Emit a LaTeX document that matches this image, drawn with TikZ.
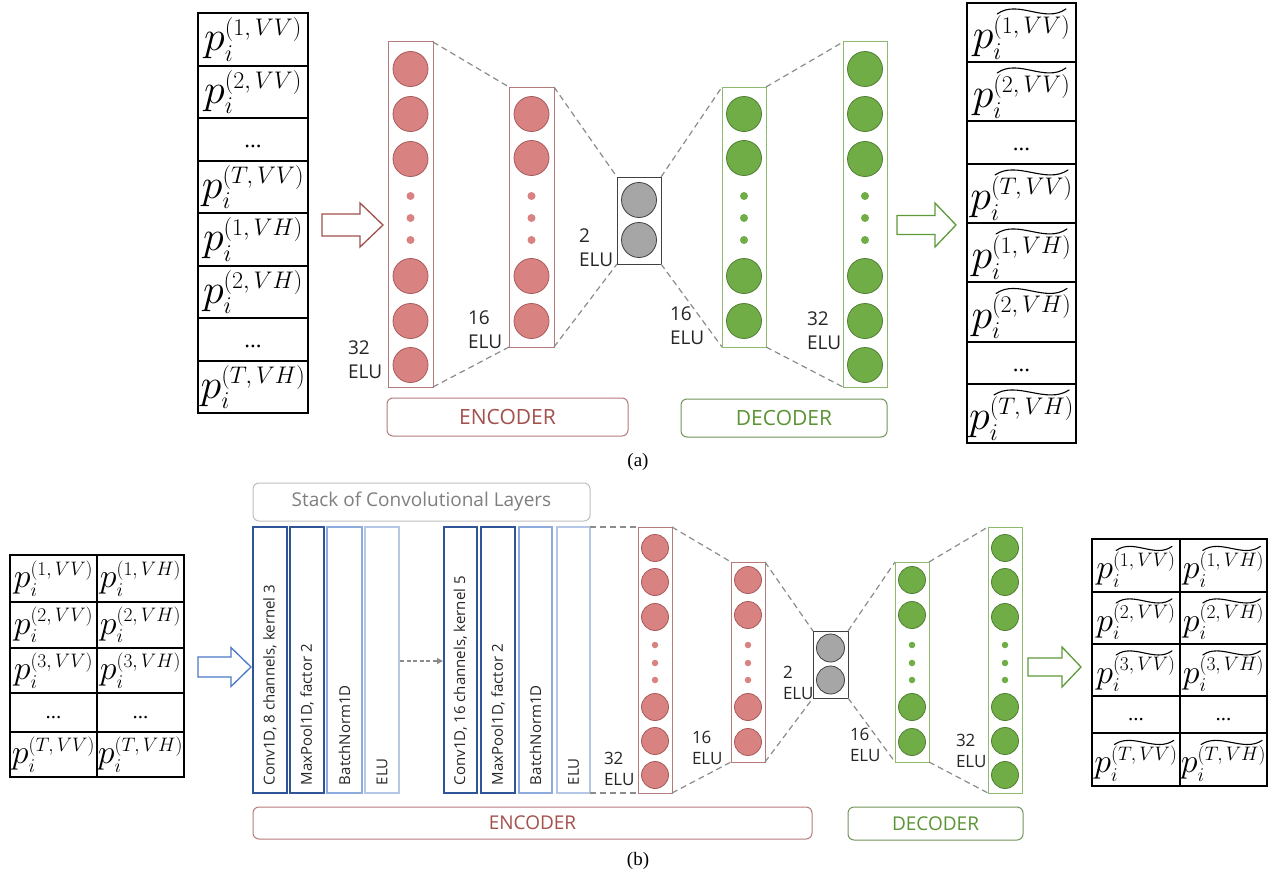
\RequirePackage{fix-cm}
\documentclass[tikz,border=0pt]{standalone}
\usepackage{graphicx}
\usepackage{fontspec}
\setmainfont{Liberation Serif}
\newfontfamily\labfont{Open Sans}
\usetikzlibrary{arrows.meta}
\DeclareMathSizes{35}{42}{24}{17}
\DeclareMathSizes{30}{34}{19.5}{14}

\definecolor{encfill}{HTML}{D98282}
\definecolor{encdraw}{HTML}{A85A5A}
\definecolor{encrect}{HTML}{B57B7B}
\definecolor{enctext}{HTML}{A4504C}
\definecolor{decfill}{HTML}{70AD47}
\definecolor{decdraw}{HTML}{4F7F30}
\definecolor{decrect}{HTML}{8DBA6E}
\definecolor{dectext}{HTML}{5A9434}
\definecolor{botfill}{HTML}{A6A6A6}
\definecolor{botdraw}{HTML}{404040}
\definecolor{dashcol}{HTML}{8C8C8C}
\definecolor{convdark}{HTML}{2F5597}
\definecolor{convmid}{HTML}{8FAADC}
\definecolor{convlight}{HTML}{B4C7E7}
\definecolor{stackgray}{HTML}{BFBFBF}
\definecolor{stacktext}{HTML}{7F7F7F}
\definecolor{arrowblue}{HTML}{4A78C8}
\definecolor{arrowred}{HTML}{A0504D}
\definecolor{arrowgreen}{HTML}{5E9A3A}

\newdimen\tlgap
\newbox\tlboxA
\newbox\tlboxB
% superscript with reserved room above it for a tilde
\newcommand{\tlph}[1]{\vbox{\offinterlineskip\kern\tlgap\hbox{$\scriptstyle #1$}}}

\newcommand{\tcell}[7]{% style, name, x1, y1, x2, y2, content
  \node[#1, minimum width={(#5-#3)*1pt}, minimum height={(#6-#4)*1pt}] (#2) at ({(#3+#5)/2},{(#4+#6)/2}) {#7};}

% cell with p_i^{~(sup)} ; tilde drawn as a curve over the superscript
\newcommand{\tildecell}[9]{% style, size, name, x1, y1, x2, y2, sup, scale
  \tlgap=9.5pt \tlgap=#9\tlgap
  \begingroup
    \fontsize{#2}{#2}\selectfont
    \setbox\tlboxA=\hbox{$p_i^{\tlph{#8}}$}%
    \setbox\tlboxB=\hbox{$\scriptstyle #8$}%
    \xdef\tlW{\the\wd\tlboxA}\xdef\tlS{\the\wd\tlboxB}%
    \xdef\tlH{\the\ht\tlboxA}\xdef\tlD{\the\dp\tlboxA}%
  \endgroup
  \tcell{#1}{#3}{#4}{#5}{#6}{#7}{$p_i^{\tlph{#8}}$}
  \pgfmathsetmacro\tlL{0.9*\tlS}
  \pgfmathsetmacro\tlXs{\tlW/2-0.95*\tlS-0.5}
  \pgfmathsetmacro\tlXa{\tlXs+0.3*\tlL}
  \pgfmathsetmacro\tlXb{\tlXs+0.7*\tlL}
  \pgfmathsetmacro\tlXe{\tlXs+\tlL}
  \pgfmathsetmacro\tlYb{(\tlH+\tlD)/2-\tlgap+1.5*#9}
  \pgfmathsetmacro\tlYa{\tlYb+15*#9}
  \pgfmathsetmacro\tlYc{\tlYb-10*#9}
  \pgfmathsetmacro\tlYe{\tlYb+5*#9}
  \draw[tildeln] ([xshift=\tlXs pt,yshift=\tlYb pt]#3.center)
     .. controls ([xshift=\tlXa pt,yshift=\tlYa pt]#3.center) and ([xshift=\tlXb pt,yshift=\tlYc pt]#3.center)
     .. ([xshift=\tlXe pt,yshift=\tlYe pt]#3.center);
}

\newcommand{\blockarrow}[7]{% color, xtail, xbase, xtip, yc, half shaft, half head
  \draw[#1, line width=1.3pt, fill=white, line join=miter]
    (#2,{#5-#6}) -- (#3,{#5-#6}) -- (#3,{#5-#7}) -- (#4,#5) -- (#3,{#5+#7}) -- (#3,{#5+#6}) -- (#2,{#5+#6}) -- cycle;}

\newcommand{\dotsA}{{\fontsize{23}{23}\selectfont\rule[-4pt]{0pt}{24pt}...}}
\newcommand{\dotsB}{{\fontsize{21}{21}\selectfont\rule[-3pt]{0pt}{17pt}...}}

\tikzset{
  every node/.style={inner sep=0pt, outer sep=0pt},
  cellT/.style={draw=black, line width=1.2pt, font=\fontsize{35}{40}\selectfont},
  cellB/.style={draw=black, line width=1.2pt, font=\fontsize{30}{36}\selectfont},
  tildeln/.style={draw=black, line width=1.1pt, line cap=round},
  encL/.style={draw=encrect, line width=1pt},
  decL/.style={draw=decrect, line width=1pt},
  botL/.style={draw=botdraw, line width=1pt},
  rcirc/.style={circle, fill=encfill, draw=encdraw, line width=0.8pt, minimum size=35pt},
  rdot/.style={circle, fill=encfill, minimum size=8pt},
  gcirc/.style={circle, fill=decfill, draw=decdraw, line width=0.8pt, minimum size=35pt},
  gdot/.style={circle, fill=decfill, minimum size=8pt},
  kcirc/.style={circle, fill=botfill, draw=botdraw, line width=0.8pt, minimum size=35pt},
  rcircs/.style={rcirc, minimum size=27pt},
  rdots/.style={rdot, minimum size=6.5pt},
  gcircs/.style={gcirc, minimum size=27pt},
  gdots/.style={gdot, minimum size=6.5pt},
  kcircs/.style={kcirc, minimum size=28pt},
  dashln/.style={draw=dashcol, line width=1.2pt, dash pattern=on 6pt off 4pt},
  labT/.style={font=\labfont\fontsize{19}{23.5}\selectfont, align=left, anchor=north west, text=black!85},
  labB/.style={font=\labfont\fontsize{17}{21}\selectfont, align=left, anchor=north west, text=black!85},
  encbox/.style={draw=encrect, line width=1pt, rounded corners=6pt, text=enctext},
  decbox/.style={draw=decrect!80!black, line width=1pt, rounded corners=6pt, text=dectext},
  convbox/.style={line width=1.2pt},
  convtxt/.style={rotate=90, anchor=west, font=\labfont\fontsize{15}{17}\selectfont, text=black!85},
  caption/.style={font=\fontsize{19}{22}\selectfont}
}

\begin{document}
\begin{tikzpicture}[x=1pt,y=-1pt]
\useasboundingbox (0,0) rectangle (1274,875);
\fill[white] (0,0) rectangle (1274,875);

%%%%%%%%%%%%%%%% (a) %%%%%%%%%%%%%%%%
% input table
\tcell{cellT}{ta1}{198}{13}{308}{66}{$p_i^{(1,\,VV)}$}
\tcell{cellT}{ta2}{198}{66}{308}{118}{$p_i^{(2,\,VV)}$}
\tcell{cellT}{ta3}{198}{118}{308}{161}{\dotsA}
\tcell{cellT}{ta4}{198}{161}{308}{213}{$p_i^{(T,\,VV)}$}
\tcell{cellT}{ta5}{198}{213}{308}{266}{$p_i^{(1,\,VH)}$}
\tcell{cellT}{ta6}{198}{266}{308}{318}{$p_i^{(2,\,VH)}$}
\tcell{cellT}{ta7}{198}{318}{308}{361}{\dotsA}
\tcell{cellT}{ta8}{198}{361}{308}{413}{$p_i^{(T,\,VH)}$}

% output table
\tildecell{cellT}{35}{tb1}{967}{3}{1076}{62}{(1,\,VV)}{1}
\tildecell{cellT}{35}{tb2}{967}{62}{1076}{121}{(2,\,VV)}{1}
\tcell{cellT}{tb3}{967}{121}{1076}{164}{\dotsA}
\tildecell{cellT}{35}{tb4}{967}{164}{1076}{223}{(T,\,VV)}{1}
\tildecell{cellT}{35}{tb5}{967}{223}{1076}{282}{(1,\,VH)}{1}
\tildecell{cellT}{35}{tb6}{967}{282}{1076}{342}{(2,\,VH)}{1}
\tcell{cellT}{tb7}{967}{342}{1076}{384}{\dotsA}
\tildecell{cellT}{35}{tb8}{967}{384}{1076}{443}{(T,\,VH)}{1}

% arrows
\blockarrow{arrowred}{322}{360}{383}{225}{11}{22}
\blockarrow{arrowgreen}{897}{935}{956}{225}{9.5}{22}

% layers
\node[encL, minimum width=45pt, minimum height=345pt] (EA) at (410.5,214.5) {};
\node[encL, minimum width=45pt, minimum height=260pt] (EB) at (531.5,217) {};
\node[botL, minimum width=44pt, minimum height=87pt] (BN) at (639,220.5) {};
\node[decL, minimum width=44pt, minimum height=260pt] (DA) at (744,217) {};
\node[decL, minimum width=44pt, minimum height=345pt] (DB) at (865,214.5) {};

\foreach \yy [count=\k] in {69,114,159,276,321,365} \node[rcirc] (ea\k) at (410.5,\yy) {};
\foreach \yy [count=\k] in {196,218,240} \node[rdot] (ead\k) at (410.5,\yy) {};
\foreach \yy [count=\k] in {114,158,276,321} \node[rcirc] (eb\k) at (531.5,\yy) {};
\foreach \yy [count=\k] in {196,218,240} \node[rdot] (ebd\k) at (531.5,\yy) {};
\foreach \yy [count=\k] in {200,240} \node[kcirc] (bn\k) at (639,\yy) {};
\foreach \yy [count=\k] in {114,158,276,321} \node[gcirc] (da\k) at (744,\yy) {};
\foreach \yy [count=\k] in {196,218,240} \node[gdot] (dad\k) at (744,\yy) {};
\foreach \yy [count=\k] in {69,114,159,276,321,365} \node[gcirc] (db\k) at (865,\yy) {};
\foreach \yy [count=\k] in {196,218,240} \node[gdot] (dbd\k) at (865,\yy) {};

% dashed connectors
\draw[dashln] (EA.north east) -- (EB.north west);
\draw[dashln] (EA.south east) -- (EB.south west);
\draw[dashln] (EB.north east) -- (BN.north west);
\draw[dashln] (EB.south east) -- (BN.south west);
\draw[dashln] (BN.north east) -- (DA.north west);
\draw[dashln] (BN.south east) -- (DA.south west);
\draw[dashln] (DA.north east) -- (DB.north west);
\draw[dashln] (DA.south east) -- (DB.south west);

% labels
\node[labT] (la1) at (348,341) {32\\ELU};
\node[labT] (la2) at (468,311) {16\\ELU};
\node[labT] (la3) at (579,229) {2\\ELU};
\node[labT] (la4) at (670,307) {16\\ELU};
\node[labT] (la5) at (807,312) {32\\ELU};

\node[encbox, minimum width=241pt, minimum height=38pt, font=\labfont\fontsize{21}{24}\selectfont] (encA) at (507.5,417) {ENCODER};
\node[decbox, minimum width=206pt, minimum height=38pt, font=\labfont\fontsize{21}{24}\selectfont] (decA) at (784,418) {DECODER};

\node[caption] (capa) at (638,462) {(a)};

%%%%%%%%%%%%%%%% (b) %%%%%%%%%%%%%%%%
% input table
\tcell{cellB}{ia1}{10}{555}{97}{602}{$p_i^{(1,\,VV)}$}
\tcell{cellB}{ib1}{97}{555}{184}{602}{$p_i^{(1,\,VH)}$}
\tcell{cellB}{ia2}{10}{602}{97}{648}{$p_i^{(2,\,VV)}$}
\tcell{cellB}{ib2}{97}{602}{184}{648}{$p_i^{(2,\,VH)}$}
\tcell{cellB}{ia3}{10}{648}{97}{693}{$p_i^{(3,\,VV)}$}
\tcell{cellB}{ib3}{97}{648}{184}{693}{$p_i^{(3,\,VH)}$}
\tcell{cellB}{ia4}{10}{693}{97}{732}{\dotsB}
\tcell{cellB}{ib4}{97}{693}{184}{732}{\dotsB}
\tcell{cellB}{ia5}{10}{732}{97}{777}{$p_i^{(T,\,VV)}$}
\tcell{cellB}{ib5}{97}{732}{184}{777}{$p_i^{(T,\,VH)}$}

% output table
\tildecell{cellB}{30}{oa1}{1092}{539}{1180}{592}{(1,\,VV)}{0.82}
\tildecell{cellB}{30}{ob1}{1180}{539}{1267}{592}{(1,\,VH)}{0.82}
\tildecell{cellB}{30}{oa2}{1092}{592}{1180}{644}{(2,\,VV)}{0.82}
\tildecell{cellB}{30}{ob2}{1180}{592}{1267}{644}{(2,\,VH)}{0.82}
\tildecell{cellB}{30}{oa3}{1092}{644}{1180}{696}{(3,\,VV)}{0.82}
\tildecell{cellB}{30}{ob3}{1180}{644}{1267}{696}{(3,\,VH)}{0.82}
\tcell{cellB}{oa4}{1092}{696}{1180}{733}{\dotsB}
\tcell{cellB}{ob4}{1180}{696}{1267}{733}{\dotsB}
\tildecell{cellB}{30}{oa5}{1092}{733}{1180}{786}{(T,\,VV)}{0.82}
\tildecell{cellB}{30}{ob5}{1180}{733}{1267}{786}{(T,\,VH)}{0.82}

% arrows
\blockarrow{arrowblue}{198}{231}{251}{667}{10}{19.5}
\blockarrow{arrowgreen}{1028}{1062}{1081}{667}{9}{20}

% stack label
\node[draw=stackgray, line width=1pt, rounded corners=6pt, minimum width=337pt, minimum height=38pt,
      font=\labfont\fontsize{19}{22}\selectfont, text=stacktext] (stack) at (421.5,502) {Stack of Convolutional Layers};

% conv boxes
\node[convbox, draw=convdark, minimum width=34pt, minimum height=266pt] (c1) at (270,660) {};
\node[convbox, draw=convdark, minimum width=34pt, minimum height=266pt] (c2) at (307,660) {};
\node[convbox, draw=convmid, minimum width=35pt, minimum height=266pt] (c3) at (344.5,660) {};
\node[convbox, draw=convlight, minimum width=34pt, minimum height=266pt] (c4) at (382,660) {};
\node[convbox, draw=convdark, minimum width=33pt, minimum height=266pt] (c5) at (460.5,660) {};
\node[convbox, draw=convdark, minimum width=34pt, minimum height=266pt] (c6) at (498,660) {};
\node[convbox, draw=convmid, minimum width=33pt, minimum height=266pt] (c7) at (535.5,660) {};
\node[convbox, draw=convlight, minimum width=33pt, minimum height=266pt] (c8) at (573.5,660) {};

\node[convtxt] (c1t) at ([yshift=8pt]c1.south) {Conv1D, 8 channels, kernel 3};
\node[convtxt] (c2t) at ([yshift=8pt]c2.south) {MaxPool1D, factor 2};
\node[convtxt] (c3t) at ([yshift=8pt]c3.south) {BatchNorm1D};
\node[convtxt] (c4t) at ([yshift=8pt]c4.south) {ELU};
\node[convtxt] (c5t) at ([yshift=8pt]c5.south) {Conv1D, 16 channels, kernel 5};
\node[convtxt] (c6t) at ([yshift=8pt]c6.south) {MaxPool1D, factor 2};
\node[convtxt] (c7t) at ([yshift=8pt]c7.south) {BatchNorm1D};
\node[convtxt] (c8t) at ([yshift=8pt]c8.south) {ELU};

\coordinate (ga1) at (400,661);
\coordinate (ga2) at (443,661);
\draw[draw=dashcol, line width=1.3pt, dash pattern=on 4pt off 2.5pt, -{Triangle[length=6pt,width=6pt]}] (ga1) -- (ga2);

% layers
\node[encL, minimum width=34pt, minimum height=266pt] (EA2) at (655,660) {};
\node[encL, minimum width=34pt, minimum height=200pt] (EB2) at (748,662) {};
\node[botL, minimum width=35pt, minimum height=67pt] (BN2) at (830.5,664.5) {};
\node[decL, minimum width=34pt, minimum height=200pt] (DA2) at (912,662) {};
\node[decL, minimum width=34pt, minimum height=266pt] (DB2) at (1005,660) {};

\foreach \yy [count=\k] in {548,582,617,707,741,775} \node[rcircs] (eA\k) at (655,\yy) {};
\foreach \yy [count=\k] in {645,663,680} \node[rdots] (eAd\k) at (655,\yy) {};
\foreach \yy [count=\k] in {580,615,707,742} \node[rcircs] (eB\k) at (748,\yy) {};
\foreach \yy [count=\k] in {645,663,680} \node[rdots] (eBd\k) at (748,\yy) {};
\foreach \yy [count=\k] in {648,680} \node[kcircs] (bN\k) at (830.5,\yy) {};
\foreach \yy [count=\k] in {580,615,707,742} \node[gcircs] (dA\k) at (912,\yy) {};
\foreach \yy [count=\k] in {645,663,680} \node[gdots] (dAd\k) at (912,\yy) {};
\foreach \yy [count=\k] in {548,582,617,707,741,775} \node[gcircs] (dB\k) at (1005,\yy) {};
\foreach \yy [count=\k] in {645,663,680} \node[gdots] (dBd\k) at (1005,\yy) {};

\draw[dashln] (c8.north east) -- (EA2.north west);
\draw[dashln] (c8.south east) -- (EA2.south west);
\draw[dashln] (EA2.north east) -- (EB2.north west);
\draw[dashln] (EA2.south east) -- (EB2.south west);
\draw[dashln] (EB2.north east) -- (BN2.north west);
\draw[dashln] (EB2.south east) -- (BN2.south west);
\draw[dashln] (BN2.north east) -- (DA2.north west);
\draw[dashln] (BN2.south east) -- (DA2.south west);
\draw[dashln] (DA2.north east) -- (DB2.north west);
\draw[dashln] (DA2.south east) -- (DB2.south west);

\node[labB] (lb1) at (604,752) {32\\ELU};
\node[labB] (lb2) at (692,731) {16\\ELU};
\node[labB] (lb3) at (783,666) {2\\ELU};
\node[labB] (lb4) at (850,728) {16\\ELU};
\node[labB] (lb5) at (956,734) {32\\ELU};

\node[encbox, minimum width=559pt, minimum height=32pt, font=\labfont\fontsize{19}{22}\selectfont] (encB) at (532.5,823) {ENCODER};
\node[decbox, minimum width=175pt, minimum height=33pt, font=\labfont\fontsize{19}{22}\selectfont] (decB) at (935.5,823.5) {DECODER};

\node[caption] (capb) at (638,861) {(b)};
\end{tikzpicture}
\end{document}
